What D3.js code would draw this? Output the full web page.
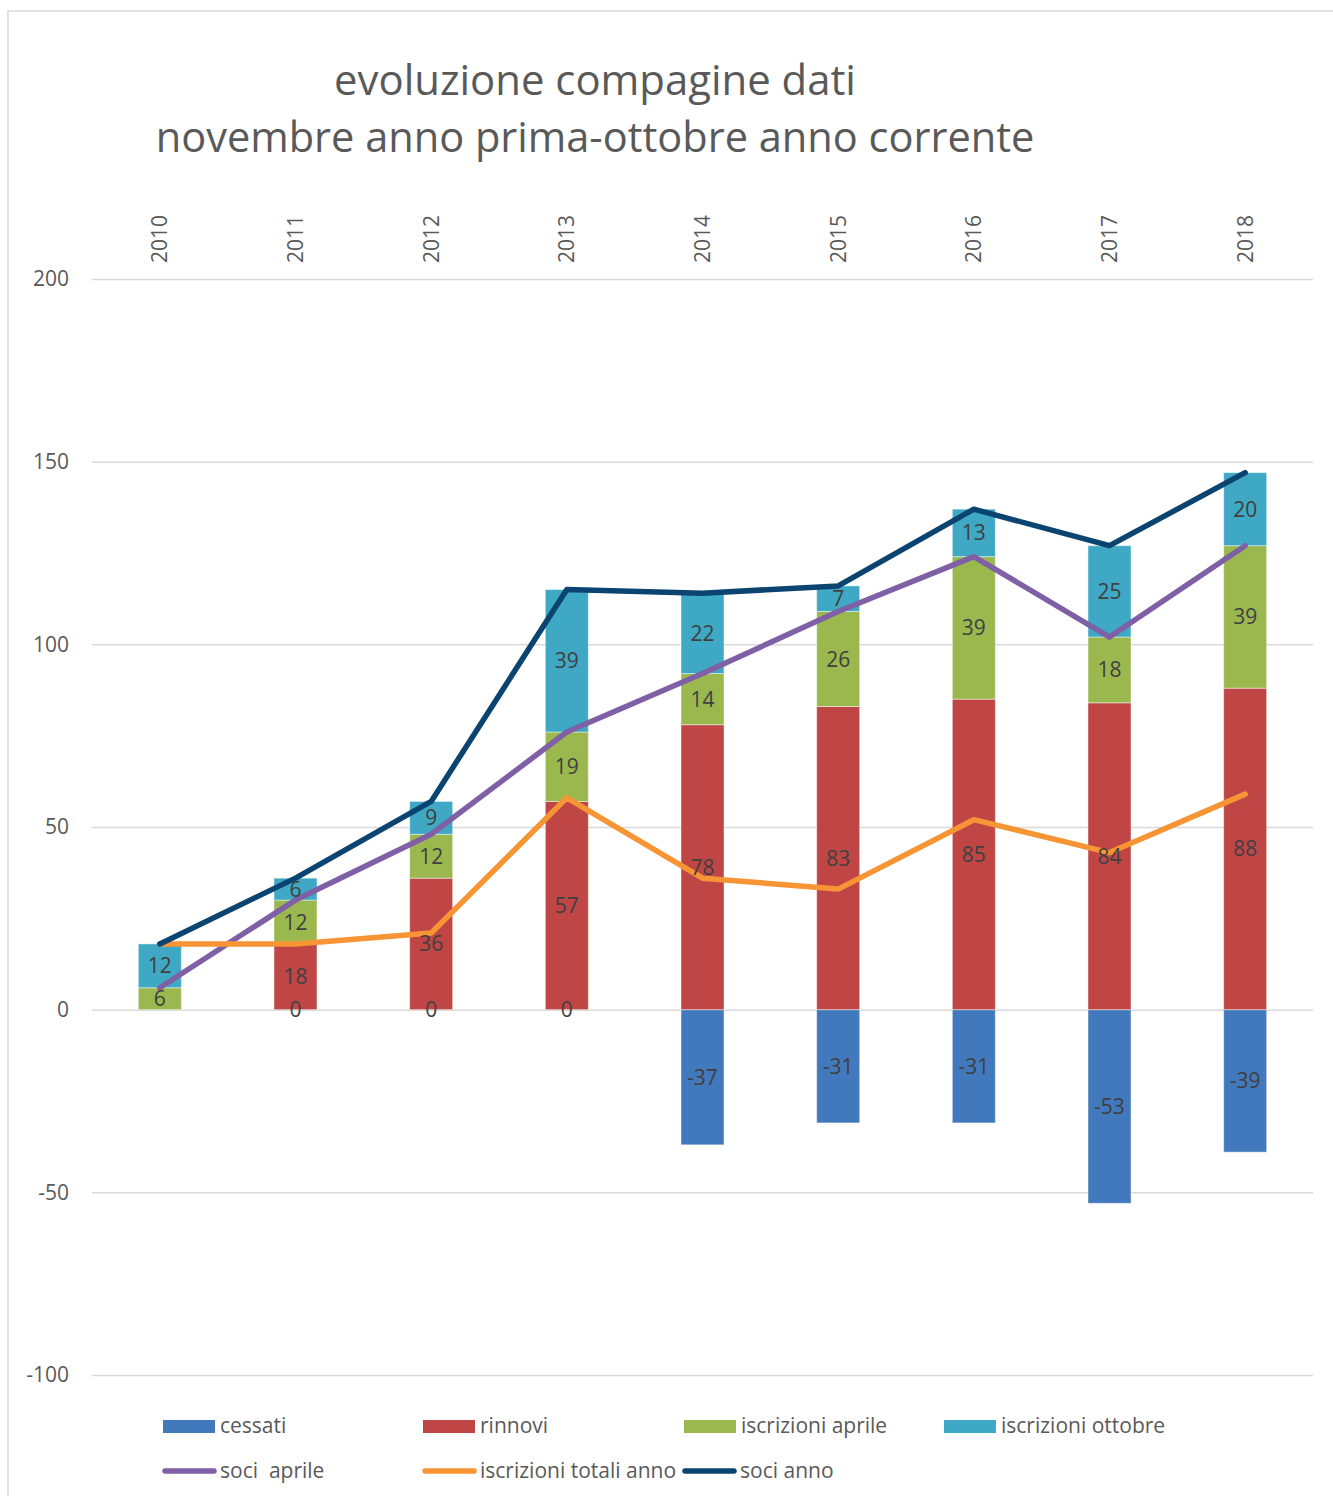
<!DOCTYPE html>
<html>
<head>
<meta charset="utf-8">
<script src="https://cdn.jsdelivr.net/npm/d3@7"></script>
<style>
  html, body { margin: 0; padding: 0; background: #fff; }
  svg { display: block; font-family: "Open Sans", "DejaVu Sans", sans-serif; }
  text { white-space: pre; }
</style>
</head>
<body>
<svg id="chart" width="1333" height="1496"></svg>
<script>
// ---- data ----
const years = ["2010", "2011", "2012", "2013", "2014", "2015", "2016", "2017", "2018"];
const cessati = [null, 0, 0, 0, -37, -31, -31, -53, -39];
const rinnovi = [null, 18, 36, 57, 78, 83, 85, 84, 88];
const iscrizioniAprile = [6, 12, 12, 19, 14, 26, 39, 18, 39];
const iscrizioniOttobre = [12, 6, 9, 39, 22, 7, 13, 25, 20];
const sociAprile = [6, 30, 48, 76, 92, 109, 124, 102, 127];
const iscrizioniTotaliAnno = [18, 18, 21, 58, 36, 33, 52, 43, 59];
const sociAnno = [18, 36, 57, 115, 114, 116, 137, 127, 147];
const yTicks = [-100, -50, 0, 50, 100, 150, 200];
const titleLines = ["evoluzione compagine dati", "novembre anno prima-ottobre anno corrente"];

const barSeries = [
  { name: "cessati", values: cessati, color: "#4179BC" },
  { name: "rinnovi", values: rinnovi, color: "#BF4645" },
  { name: "iscrizioni aprile", values: iscrizioniAprile, color: "#9BB84F" },
  { name: "iscrizioni ottobre", values: iscrizioniOttobre, color: "#3FA9C5" }
];
const lineSeries = [
  { name: "soci  aprile", values: sociAprile, color: "#7F5FA6" },
  { name: "iscrizioni totali anno", values: iscrizioniTotaliAnno, color: "#F79433" },
  { name: "soci anno", values: sociAnno, color: "#0B4470" }
];

// ---- layout ----
const svg = d3.select("#chart");
const plotLeft = 92, plotRight = 1313, plotTop = 279, plotBottom = 1375;
const textColor = "#595959";
const labelColor = "#404040";
const gridColor = "#d9d9d9";

// outer chart border (left and top visible)
svg.append("rect")
  .attr("x", 8).attr("y", 11).attr("width", 1400).attr("height", 1600)
  .attr("fill", "none").attr("stroke", gridColor).attr("stroke-width", 1.5);

const x = d3.scaleBand().domain(years).range([plotLeft, plotRight])
  .paddingInner(0.683).paddingOuter(0.3415);
const y = d3.scaleLinear().domain([-100, 200]).range([plotBottom, plotTop]);
const cx = d => x(d) + x.bandwidth() / 2;

// gridlines + y axis labels
const yAxis = d3.axisLeft(y).tickValues(yTicks).tickSize(-(plotRight - plotLeft)).tickPadding(23)
  .tickFormat(d => String(d));
const gy = svg.append("g").attr("transform", `translate(${plotLeft},0)`).call(yAxis);
gy.select(".domain").remove();
gy.selectAll(".tick line").attr("stroke", gridColor).attr("stroke-width", 1.5);
gy.selectAll(".tick text").attr("fill", textColor).attr("font-size", 21)
  .attr("font-family", "Open Sans, sans-serif");

// category labels (rotated, top)
svg.append("g").selectAll("text").data(years).join("text")
  .attr("transform", d => `translate(${cx(d)},263) rotate(-90)`)
  .attr("text-anchor", "start").attr("dy", "0.35em")
  .attr("font-size", 21).attr("fill", textColor).text(d => d);

// stacked bars (positive stack up from 0, negatives down)
const segments = [];
years.forEach((yr, i) => {
  let pos = 0, neg = 0;
  barSeries.forEach(s => {
    const v = s.values[i];
    if (v === null || v === undefined) return;
    let y0, y1;
    if (v >= 0) { y0 = pos; y1 = pos + v; pos = y1; }
    else { y0 = neg; y1 = neg + v; neg = y1; }
    segments.push({ yr, v, y0, y1, color: s.color });
  });
});

svg.append("g").selectAll("rect").data(segments).join("rect")
  .attr("x", d => x(d.yr))
  .attr("width", x.bandwidth())
  .attr("y", d => y(Math.max(d.y0, d.y1)))
  .attr("height", d => Math.abs(y(d.y0) - y(d.y1)))
  .attr("fill", d => d.color)
  .attr("stroke", "rgba(255,255,255,0.45)").attr("stroke-width", 1);

// lines
const lineGen = d3.line().x((d, i) => cx(years[i])).y(d => y(d));
svg.append("g").selectAll("path").data(lineSeries).join("path")
  .attr("d", s => lineGen(s.values))
  .attr("fill", "none").attr("stroke", s => s.color)
  .attr("stroke-width", 5.5).attr("stroke-linecap", "round").attr("stroke-linejoin", "round");

// data labels
svg.append("g").selectAll("text").data(segments).join("text")
  .attr("x", d => cx(d.yr))
  .attr("y", d => y((d.y0 + d.y1) / 2))
  .attr("dy", "0.36em").attr("text-anchor", "middle")
  .attr("font-size", 21).attr("fill", labelColor)
  .text(d => d.v);

// title
const titleG = svg.append("g");
const titleTargets = [{ w: 522, y: 95 }, { w: 879, y: 152 }];
titleLines.forEach((t, i) => {
  const el = titleG.append("text").attr("x", 595).attr("y", titleTargets[i].y)
    .attr("text-anchor", "middle").attr("fill", textColor).attr("font-size", 36).text(t);
  const w = el.node().getComputedTextLength();
  if (w > 0) el.attr("font-size", 36 * titleTargets[i].w / w);
});

// legend
const legendBarX = [163, 423, 684, 944];
const leg1 = svg.append("g");
barSeries.forEach((s, i) => {
  leg1.append("rect").attr("x", legendBarX[i]).attr("y", 1420).attr("width", 52).attr("height", 13).attr("fill", s.color);
  leg1.append("text").attr("x", legendBarX[i] + 57).attr("y", 1426).attr("dy", "0.35em")
    .attr("font-size", 21).attr("fill", textColor).text(s.name);
});
const legendLineX = [163, 423, 683];
lineSeries.forEach((s, i) => {
  leg1.append("line").attr("x1", legendLineX[i] + 2).attr("x2", legendLineX[i] + 51)
    .attr("y1", 1471).attr("y2", 1471).attr("stroke", s.color).attr("stroke-width", 5.5).attr("stroke-linecap", "round");
  leg1.append("text").attr("x", legendLineX[i] + 57).attr("y", 1471).attr("dy", "0.35em")
    .attr("font-size", 21).attr("fill", textColor).text(s.name);
});
</script>
</body>
</html>
